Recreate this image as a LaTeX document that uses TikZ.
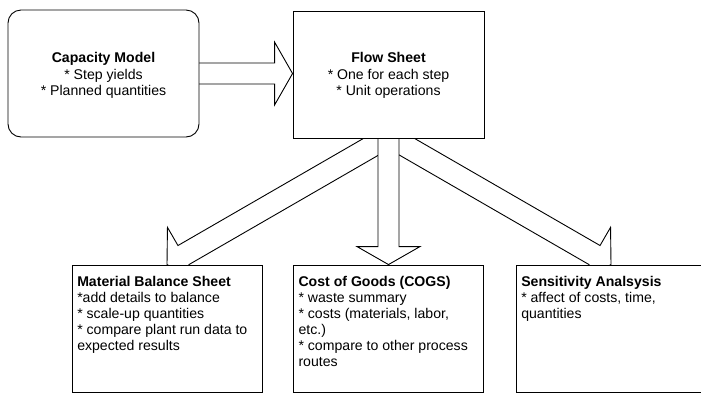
\documentclass[tikz,border=0pt]{standalone}
\usepackage{fontspec}
\setmainfont{Liberation Sans}
\usetikzlibrary{calc,backgrounds}
\begin{document}
\begin{tikzpicture}[x=1pt,y=-1pt,
  box/.style={draw=black, line width=0.9pt, fill=white, inner sep=0pt,
    minimum width=#1, minimum height=127pt},
  txt/.style={inner sep=0pt, font=\fontsize{14.1}{16}\selectfont},
  ctxt/.style={inner sep=0pt, align=center, anchor=north,
    font=\fontsize{14.1}{16.5}\selectfont},
  ltxt/.style={txt, align=left, anchor=north west},
  barrow/.style={draw=black, line width=0.9pt, fill=white, line join=miter}
]
\useasboundingbox (0,0) rectangle (701,392);
\clip (0,0) rectangle (701,392);

% boxes
\node[box=191pt, rounded corners=13pt] (cap) at (103.5,73.5) {};
\node[box=191pt] (flow) at (388.5,74.5) {};
\node[box=190pt] (mbs) at (167,328.5) {};
\node[box=190pt] (cogs) at (388,328.5) {};
\node[box=190pt] (sens) at (611,328.5) {};

% texts
\node[ctxt] (captext) at ($(cap.center)+(0,-21.3)$)
  {\textbf{Capacity Model}\\{}* Step yields\\{}* Planned quantities};
\node[ctxt] (flowtext) at ($(flow.center)+(0,-22.3)$)
  {\textbf{Flow Sheet}\\{}* One for each step\\{}* Unit operations};
\node[ltxt] (mbstext) at ($(mbs.north west)+(5.5,11.2)$)
  {\textbf{Material Balance Sheet}\\{}*add details to balance\\{}* scale-up quantities\\{}* compare plant run data to\\expected results};
\node[ltxt] (cogstext) at ($(cogs.north west)+(5.8,11.2)$)
  {\textbf{Cost of Goods (COGS)}\\{}* waste summary\\{}* costs (materials, labor,\\etc.)\\{}* compare to other process\\routes};
\node[ltxt] (senstext) at ($(sens.north west)+(5.5,11.2)$)
  {\textbf{Sensitivity Analsysis}\\{}* affect of costs, time,\\quantities};

\coordinate (rt) at (flow.west |- cap.east);
\coordinate (dt) at (flow.south |- cogs.north);

\begin{scope}[on background layer]
  % diagonal arrow to Material Balance Sheet
  \begin{scope}
    \clip ($(flow.south)+(-10.5,-200)$) rectangle (-10,600);
    \begin{scope}[shift={(mbs.north)}, x=1pt, y=1pt, rotate=30]
      \draw[barrow] (0,0) -- (19,32) -- (19,11) -- (270,11) -- (270,-11)
        -- (19,-11) -- (19,-32) -- cycle;
    \end{scope}
  \end{scope}
  % diagonal arrow to Sensitivity Analysis
  \begin{scope}
    \clip ($(flow.south)+(10.5,-200)$) rectangle (800,600);
    \begin{scope}[shift={(sens.north)}, x=1pt, y=1pt, rotate=150]
      \draw[barrow] (0,0) -- (19,32) -- (19,11) -- (270,11) -- (270,-11)
        -- (19,-11) -- (19,-32) -- cycle;
    \end{scope}
  \end{scope}
  % down arrow to COGS
  \draw[barrow] ($(flow.south)+(-10.5,-3)$) -- ($(dt)+(-10.5,-18)$)
    -- ($(dt)+(-31.5,-18)$) -- (dt) -- ($(dt)+(31.5,-18)$)
    -- ($(dt)+(10.5,-18)$) -- ($(flow.south)+(10.5,-3)$) -- cycle;
  % right arrow Capacity -> Flow
  \draw[barrow] ($(cap.east)+(-5,-10.5)$) -- ($(rt)+(-18,-10.5)$)
    -- ($(rt)+(-18,-31.5)$) -- (rt) -- ($(rt)+(-18,31.5)$)
    -- ($(rt)+(-18,10.5)$) -- ($(cap.east)+(-5,10.5)$) -- cycle;
\end{scope}
\end{tikzpicture}
\end{document}
